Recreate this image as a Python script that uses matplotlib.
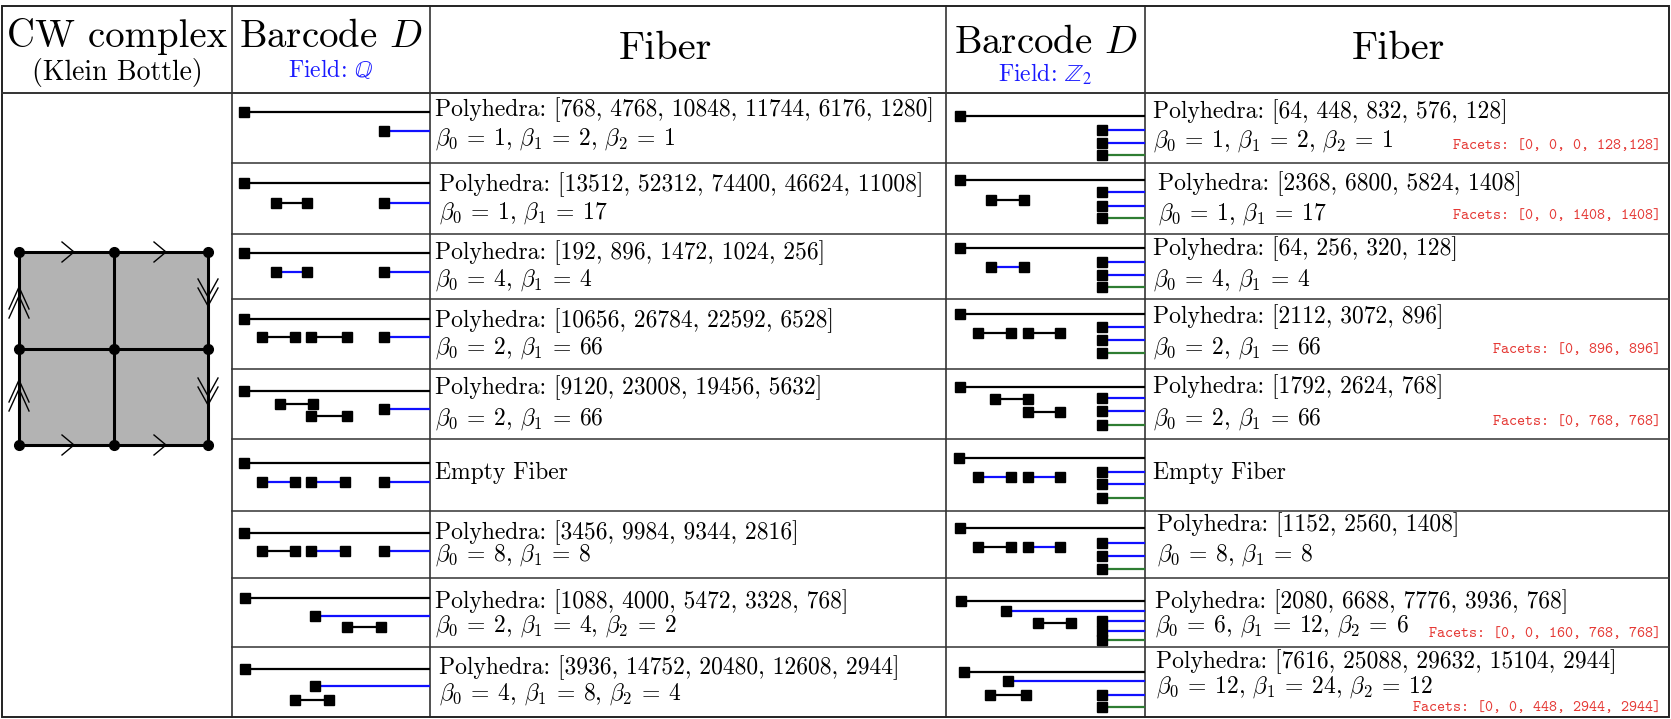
import matplotlib
matplotlib.use("Agg")
import matplotlib.pyplot as plt
from matplotlib.patches import Rectangle

plt.rcParams['font.family'] = 'serif'
plt.rcParams['font.serif'] = ['cmr10']
plt.rcParams['mathtext.fontset'] = 'cm'
plt.rcParams['axes.unicode_minus'] = False

# ---- table content ----
poly_q = [[768, 4768, 10848, 11744, 6176, 1280],
          [13512, 52312, 74400, 46624, 11008],
          [192, 896, 1472, 1024, 256],
          [10656, 26784, 22592, 6528],
          [9120, 23008, 19456, 5632],
          None,
          [3456, 9984, 9344, 2816],
          [1088, 4000, 5472, 3328, 768],
          [3936, 14752, 20480, 12608, 2944]]
betti_q = [[1, 2, 1], [1, 17], [4, 4], [2, 66], [2, 66], None, [8, 8], [2, 4, 2], [4, 8, 4]]

poly_z2 = [[64, 448, 832, 576, 128],
           [2368, 6800, 5824, 1408],
           [64, 256, 320, 128],
           [2112, 3072, 896],
           [1792, 2624, 768],
           None,
           [1152, 2560, 1408],
           [2080, 6688, 7776, 3936, 768],
           [7616, 25088, 29632, 15104, 2944]]
betti_z2 = [[1, 2, 1], [1, 17], [4, 4], [2, 66], [2, 66], None, [8, 8], [6, 12, 6], [12, 24, 12]]

facets_z2 = {0: "[0, 0, 0, 128,128]", 1: "[0, 0, 1408, 1408]", 3: "[0, 896, 896]",
             4: "[0, 768, 768]", 7: "[0, 0, 160, 768, 768]", 8: "[0, 0, 448, 2944, 2944]"}

# barcodes: (birth, death or None=infinite, lane, dimension)
# birth/death as fraction of the barcode cell width, lane as fraction of row height
bars_q = [
    [(0.06, None, 0.27, 0), (0.77, None, 0.54, 1)],
    [(0.06, None, 0.28, 0), (0.22, 0.38, 0.56, 0), (0.77, None, 0.56, 1)],
    [(0.06, None, 0.29, 0), (0.22, 0.38, 0.58, 1), (0.77, None, 0.58, 1)],
    [(0.06, None, 0.29, 0), (0.15, 0.32, 0.54, 0), (0.40, 0.58, 0.54, 0), (0.77, None, 0.54, 1)],
    [(0.06, None, 0.31, 0), (0.24, 0.41, 0.50, 0), (0.40, 0.58, 0.67, 0), (0.77, None, 0.57, 1)],
    [(0.06, None, 0.33, 0), (0.15, 0.32, 0.60, 1), (0.40, 0.57, 0.60, 1), (0.77, None, 0.60, 1)],
    [(0.06, None, 0.33, 0), (0.15, 0.32, 0.60, 0), (0.40, 0.57, 0.60, 1), (0.77, None, 0.60, 1)],
    [(0.065, None, 0.29, 0), (0.42, None, 0.55, 1), (0.58, 0.75, 0.71, 0)],
    [(0.065, None, 0.31, 0), (0.42, None, 0.56, 1), (0.32, 0.49, 0.75, 0)],
]
bars_z2 = [
    [(0.07, None, 0.33, 0), (0.785, None, 0.53, 1), (0.785, None, 0.71, 1), (0.785, None, 0.89, 2)],
    [(0.07, None, 0.24, 0), (0.225, 0.39, 0.52, 0),
     (0.785, None, 0.41, 1), (0.785, None, 0.61, 1), (0.785, None, 0.78, 2)],
    [(0.07, None, 0.22, 0), (0.225, 0.39, 0.51, 1),
     (0.785, None, 0.43, 1), (0.785, None, 0.63, 1), (0.785, None, 0.82, 2)],
    [(0.07, None, 0.21, 0), (0.16, 0.325, 0.49, 0), (0.41, 0.575, 0.49, 0),
     (0.785, None, 0.40, 1), (0.785, None, 0.59, 1), (0.785, None, 0.77, 2)],
    [(0.07, None, 0.26, 0), (0.245, 0.41, 0.43, 0), (0.41, 0.575, 0.61, 0),
     (0.785, None, 0.41, 1), (0.785, None, 0.60, 1), (0.785, None, 0.80, 2)],
    [(0.065, None, 0.26, 0), (0.16, 0.325, 0.53, 1), (0.41, 0.575, 0.53, 1),
     (0.785, None, 0.46, 1), (0.785, None, 0.63, 1), (0.785, None, 0.82, 2)],
    [(0.07, None, 0.25, 0), (0.16, 0.325, 0.54, 0), (0.41, 0.575, 0.54, 1),
     (0.785, None, 0.48, 1), (0.785, None, 0.67, 1), (0.785, None, 0.87, 2)],
    [(0.075, None, 0.33, 0), (0.30, None, 0.48, 1), (0.46, 0.63, 0.65, 0),
     (0.785, None, 0.62, 1), (0.785, None, 0.77, 1), (0.785, None, 0.90, 2)],
    [(0.09, None, 0.35, 0), (0.31, None, 0.49, 1), (0.22, 0.40, 0.69, 0),
     (0.785, None, 0.68, 1), (0.785, None, 0.85, 2)],
]
tight_rows = [0, 1, 6]

# ---- layout (pixels) ----
W, H = 1671, 719
col_x = [2, 232, 430, 946, 1145, 1669]
row_y = [6, 93, 163, 234, 299, 369, 439, 511, 578, 647, 717]
# text baselines relative to row top, and left indents
poly_base_q = [23, 28, 25, 28, 25, 40, 28, 30, 27]
beta_base_q = [52, 56, 52, 55, 56, 0, 50, 54, 53]
indent_q = [5, 9, 5, 5, 5, 5, 5, 5, 9]
poly_base_z2 = [25, 27, 21, 24, 24, 40, 20, 30, 21]
beta_base_z2 = [54, 57, 52, 55, 56, 0, 50, 54, 46]
indent_z2 = [8, 13, 8, 8, 8, 8, 12, 10, 11]
facet_base = {0: 56, 1: 56, 3: 54, 4: 56, 7: 59, 8: 64}

dim_color = {0: 'black', 1: '#1010ff', 2: '#2e7d32'}
field_blue = '#1a1aff'
facet_red = '#e53935'
fs = 17

fig = plt.figure(figsize=(W / 100, H / 100), dpi=100)
ax = fig.add_axes([0, 0, 1, 1])
ax.set_xlim(0, W)
ax.set_ylim(H, 0)
ax.axis('off')

# grid lines
ax.add_patch(Rectangle((col_x[0], row_y[0]), col_x[-1] - col_x[0], row_y[-1] - row_y[0],
                       fill=False, lw=1.4, ec='#222222'))
for x in col_x[1:-1]:
    ax.plot([x, x], [row_y[0], row_y[-1]], color='#222222', lw=1.1)
ax.plot([col_x[0], col_x[-1]], [row_y[1], row_y[1]], color='#333333', lw=1.4)
for y in row_y[2:-1]:
    ax.plot([col_x[1], col_x[-1]], [y, y], color='#333333', lw=1.1)

# headers
ax.text((col_x[0] + col_x[1]) / 2, 47, "CW complex", fontsize=28, ha='center', va='baseline')
ax.text((col_x[0] + col_x[1]) / 2, 80, "(Klein Bottle)", fontsize=20, ha='center', va='baseline')
ax.text((col_x[1] + col_x[2]) / 2, 47, "Barcode $D$", fontsize=28, ha='center', va='baseline')
ax.text((col_x[1] + col_x[2]) / 2, 77, r"Field: $\mathbb{Q}$", fontsize=17, ha='center',
        va='baseline', color=field_blue, math_fontfamily='stix')
ax.text(665, 59, "Fiber", fontsize=29, ha='center', va='baseline')
ax.text((col_x[3] + col_x[4]) / 2, 53, "Barcode $D$", fontsize=28, ha='center', va='baseline')
ax.text((col_x[3] + col_x[4]) / 2, 82, r"Field: $\mathbb{Z}_2$", fontsize=17, ha='center',
        va='baseline', color=field_blue, math_fontfamily='stix')
ax.text(1398, 59, "Fiber", fontsize=29, ha='center', va='baseline')


def betti_text(vals, tight):
    parts = [r"\beta_{%d}\:=\:%d" % (i, v) for i, v in enumerate(vals)]
    if tight:
        return "$" + r",\,".join(parts) + "$"
    return ", ".join("$" + p + "$" for p in parts)


def draw_barcode(bars, x0, x1, y0, y1):
    w = x1 - x0
    h = y1 - y0
    for b, d, lane, dim in bars:
        xs = x0 + b * w
        xe = x1 if d is None else x0 + d * w
        y = y0 + lane * h
        ax.plot([xs, xe], [y, y], color=dim_color[dim], lw=1.6, solid_capstyle='butt', zorder=2)
        ax.plot([xs], [y], 's', color='black', ms=6.6, zorder=3)
        if d is not None:
            ax.plot([xe], [y], 's', color='black', ms=6.6, zorder=3)


for i in range(9):
    y0, y1 = row_y[i + 1], row_y[i + 2]
    draw_barcode(bars_q[i], col_x[1], col_x[2], y0, y1)
    draw_barcode(bars_z2[i], col_x[3], col_x[4], y0, y1)
    cells = [(poly_q[i], betti_q[i], col_x[2] + indent_q[i], poly_base_q[i], beta_base_q[i]),
             (poly_z2[i], betti_z2[i], col_x[4] + indent_z2[i], poly_base_z2[i], beta_base_z2[i])]
    for poly, betti, x, pb, bb in cells:
        if poly is None:
            ax.text(x, y0 + pb, "Empty Fiber", fontsize=fs, ha='left', va='baseline')
            continue
        ax.text(x, y0 + pb, "Polyhedra: [" + ", ".join(str(v) for v in poly) + "]",
                fontsize=fs, ha='left', va='baseline')
        ax.text(x, y0 + bb, betti_text(betti, i in tight_rows), fontsize=fs, ha='left',
                va='baseline')
    if i in facets_z2:
        ax.text(col_x[5] - 8, y0 + facet_base[i], "Facets: " + facets_z2[i], fontsize=11,
                ha='right', va='baseline', color=facet_red, family='cmtt10')

# CW complex of the Klein bottle
gx = [19, 114, 208]
gy = [252, 349, 445]
ax.add_patch(Rectangle((gx[0], gy[0]), gx[2] - gx[0], gy[2] - gy[0], fc='#b3b3b3', ec='none', zorder=1))
for x in gx:
    ax.plot([x, x], [gy[0], gy[2]], color='black', lw=2.2, zorder=2)
for y in gy:
    ax.plot([gx[0], gx[2]], [y, y], color='black', lw=2.2, zorder=2)
for x in gx:
    for y in gy:
        ax.plot([x], [y], 'o', color='black', ms=7, zorder=3)

# single chevrons on top and bottom edges
for y in [gy[0], gy[2]]:
    for cx in [68, 160]:
        ax.plot([cx - 6, cx + 6, cx - 6], [y - 10, y, y + 10], color='black', lw=1, zorder=4)
# double chevrons on left edge (upward) and right edge (downward)
for cy in [287, 380]:
    for k in [0, 9]:
        ax.plot([gx[0] - 10, gx[0], gx[0] + 10], [cy + k + 22, cy + k, cy + k + 22],
                color='black', lw=1, zorder=4)
for cy in [306, 405]:
    for k in [0, -9]:
        ax.plot([gx[2] - 10, gx[2], gx[2] + 10], [cy + k - 18, cy + k, cy + k - 18],
                color='black', lw=1, zorder=4)

fig.savefig("out.png", dpi=100)
